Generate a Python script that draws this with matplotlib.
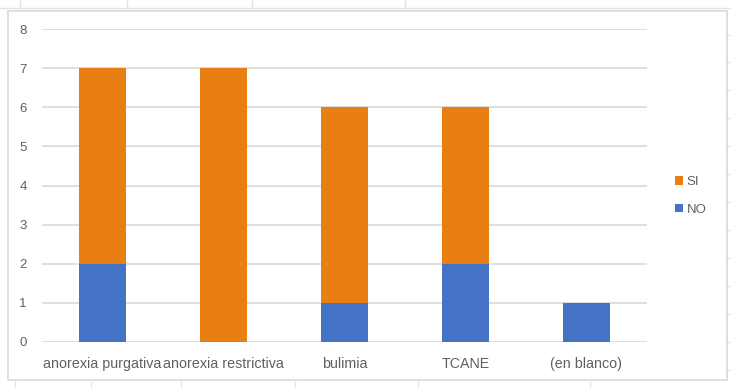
import numpy as np
import matplotlib
matplotlib.use("Agg")
from matplotlib import pyplot as plt
from matplotlib.patches import Rectangle
from matplotlib.lines import Line2D

categories = ["anorexia purgativa", "anorexia restrictiva", "bulimia", "TCANE", "(en blanco)"]
no_counts = [2, 0, 1, 2, 1]
si_counts = [5, 7, 5, 4, 0]
y_ticks = [0, 1, 2, 3, 4, 5, 6, 7, 8]

blue = "#4472C4"
orange = "#E97F14"
grid_gray = "#D9D9D9"
text_gray = "#606060"

plt.rcParams["font.family"] = ["Liberation Sans Narrow", "Liberation Sans", "DejaVu Sans"]

W, H = 731, 388
fig = plt.figure(figsize=(W / 100, H / 100), dpi=100)

# spreadsheet cell lines behind the chart object
cell = "#E4E4E4"
def fig_line(xs, ys):
    fig.add_artist(Line2D(xs, ys, transform=fig.transFigure, color=cell, lw=1, zorder=-10))

fig_line([0, 1], [1 - 8 / H, 1 - 8 / H])
for x in [20, 127, 252, 405]:
    fig_line([x / W, x / W], [1 - 8 / H, 1])
for x in [15, 91, 181, 295, 418, 590]:
    fig_line([x / W, x / W], [0, 1 - 382 / H])
for y in [35, 62, 90, 118, 146, 174, 202, 230, 258, 286, 314, 342, 370]:
    fig_line([727 / W, 1], [1 - y / H, 1 - y / H])

# chart border
fig.add_artist(Rectangle((8 / W, 1 - 380 / H), 719 / W, 369 / H, transform=fig.transFigure,
                         fill=True, facecolor="white", edgecolor=grid_gray, lw=1.2, zorder=-5))

ax = fig.add_axes([42 / W, 1 - 342 / H, 605 / W, 313 / H])
x = np.arange(len(categories))
width = 0.39
ax.bar(x, no_counts, width, color=blue, label="NO", zorder=3)
ax.bar(x, si_counts, width, bottom=no_counts, color=orange, label="SI", zorder=3)

ax.set_xlim(-0.5, len(categories) - 0.5)
ax.set_ylim(0, 8)
ax.set_yticks(y_ticks)
ax.set_xticks(x)
ax.set_xticklabels(categories, fontsize=10.3)
ax.grid(axis="y", color=grid_gray, lw=1.2, zorder=0)
ax.tick_params(axis="both", length=0, colors=text_gray)
ax.tick_params(axis="y", labelsize=9.5, pad=11)
ax.tick_params(axis="x", pad=11)
for s in ax.spines.values():
    s.set_visible(False)
ax.patch.set_alpha(0)

handles, labels = ax.get_legend_handles_labels()
leg = fig.legend(handles[::-1], labels[::-1], loc="center left", bbox_to_anchor=(663 / W, 1 - 196 / H),
                 frameon=False, handlelength=0.6, handleheight=0.6, handletextpad=0.3,
                 labelspacing=1.2, fontsize=9.5)
for t in leg.get_texts():
    t.set_color(text_gray)

fig.savefig("out.png", dpi=100)
